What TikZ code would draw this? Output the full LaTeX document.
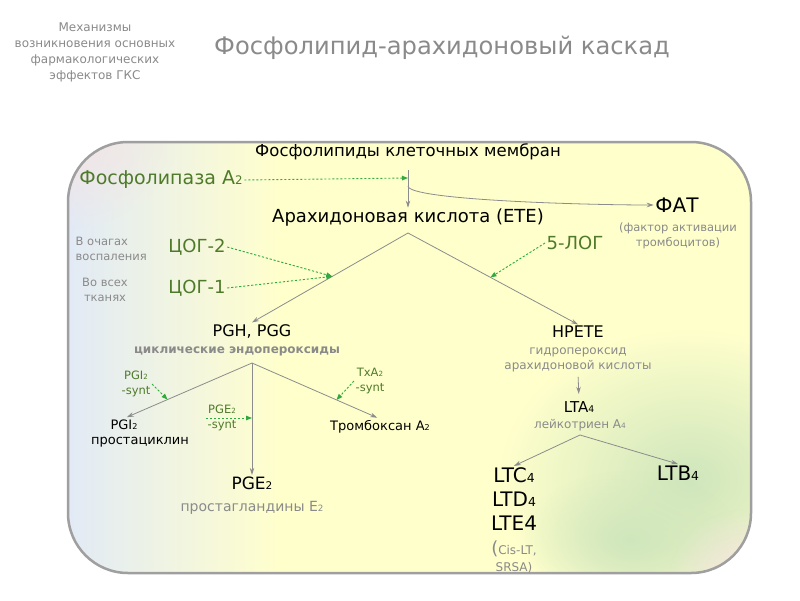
\documentclass[tikz,border=0pt]{standalone}
\usepackage{fontspec}
\setmainfont{DejaVu Sans}
\usepackage{xcolor}
\usetikzlibrary{arrows.meta,fadings}

\definecolor{grtxt}{HTML}{4F7A2A}
\definecolor{grarr}{HTML}{2EAA3E}
\definecolor{gytxt}{HTML}{8A8A8A}
\definecolor{arrgray}{HTML}{8C8C8C}
\definecolor{boxyel}{HTML}{FFFFCC}
\definecolor{boxblue}{HTML}{E2EAF6}
\definecolor{boxgreen}{HTML}{CFE6BC}
\definecolor{boxpink}{HTML}{F5E3E3}
\tikzfading[name=glow,inner color=transparent!0,outer color=transparent!100]
\newcommand{\fsz}[2]{\fontsize{#1}{#2}\selectfont}
\newcommand{\sm}[1]{\scalebox{0.62}{#1}}

\begin{document}
\begin{tikzpicture}[x=1pt,y=-1pt]
  \tikzset{
    txt/.style={inner sep=1.5pt,align=center},
    note/.style={txt,text=gytxt,font=\fsz{11.5}{15}},
    enz/.style={txt,text=grtxt,font=\fsz{18}{20}},
    synt/.style={txt,text=grtxt,font=\fsz{11.5}{15.5}},
    arr/.style={-{Stealth[length=7pt,width=4.5pt]},draw=arrgray,line width=0.8pt},
    zarr/.style={-{Triangle[length=6pt,width=4.5pt]},draw=grarr,line width=0.9pt,
                 dash pattern=on 2.2pt off 1.8pt}
  }
  \useasboundingbox (0,0) rectangle (800,600);
  \fill[white] (0,0) rectangle (800,600);

  % Background box
  \begin{scope}
    \clip[rounded corners=60pt] (68,142) rectangle (751,573);
    \fill[boxyel] (68,142) rectangle (751,573);
    \shade[left color=boxblue,right color=boxyel] (68,142) rectangle (280,573);
    \fill[boxpink,path fading=glow] (60,130) ellipse (120 and 100);
    \fill[boxgreen,path fading=glow] (690,480) ellipse (190 and 150);
    \fill[boxgreen,path fading=glow] (630,540) ellipse (110 and 70);
    \fill[boxpink,path fading=glow] (748,578) ellipse (80 and 70);
  \end{scope}
  \draw[gray!75,line width=2.5pt,rounded corners=60pt] (68,142) rectangle (751,573);

  % Headings
  \node[note,font=\fsz{12}{16}] (mech) at (95,52)
    {Механизмы\\возникновения основных\\фармакологических\\эффектов ГКС};
  \node[txt,text=gytxt,font=\fsz{24.2}{28}] (title) at (442,48)
    {Фосфолипид-арахидоновый каскад};

  % Phospholipids
  \node[txt,font=\fsz{16.5}{19}] (phl) at (408,152) {Фосфолипиды клеточных мембран};
  \node[enz,font=\fsz{19}{21}] (pla) at (161,180) {Фосфолипаза А\sm{2}};
  \node[txt,font=\fsz{18}{20}] (ara) at (408,218) {Арахидоновая кислота (ЕТЕ)};
  \node[txt,font=\fsz{20}{22}] (fat) at (677,205) {ФАТ};
  \node[note] (fatd) at (678,236) {(фактор активации\\тромбоцитов)};
  \coordinate (pj) at (408,178);
  \coordinate (pk) at (408,186);
  \draw[arr,shorten <=8pt] (phl.south) -- (ara.north);
  \draw[zarr] (pla.east) -- (pj);
  \draw[arr] (pk) .. controls +(0,14) and +(-70,0) .. (fat.west);

  % Cyclooxygenase / lipoxygenase
  \node[enz] (cox2) at (197,247) {ЦОГ-2};
  \node[enz] (cox1) at (197,288) {ЦОГ-1};
  \node[note,align=left,anchor=west] (loc2) at (74,249) {В очагах\\воспаления};
  \node[note] (loc1) at (105,290) {Во всех\\тканях};
  \node[enz] (lox) at (575,243) {5-ЛОГ};
  \node[txt,font=\fsz{16}{18}] (pgh) at (252,331) {PGH, PGG};
  \node[note,font=\bfseries\fsz{12}{15}] (pghd) at (237,351) {циклические эндопероксиды};
  \node[txt,font=\fsz{16}{18}] (hp) at (578,332) {HPETE};
  \node[note,font=\fsz{12}{15}] (hpd) at (578,360) {гидропероксид\\арахидоновой кислоты};
  \coordinate (av) at (408,233);
  \draw[arr] (av) -- (pgh.north) coordinate[pos=0.485] (cx);
  \draw[arr] (av) -- (hp.north) coordinate[pos=0.485] (lx);
  \draw[zarr] (cox2.east) -- (cx);
  \draw[zarr] (cox1.east) -- (cx);
  \draw[zarr] (lox.west) -- (lx);

  % Prostanoids
  \node[txt,font=\fsz{13}{17}] (pgi) at (124,425) {PGI\sm{2}};
  \node[txt,font=\fsz{13}{17}] (prc) at (140,442) {простациклин};
  \node[txt,font=\fsz{13}{17}] (txa) at (380,427) {Тромбоксан А\sm{2}};
  \node[txt,font=\fsz{17}{19}] (pge) at (252,483) {PGE\sm{2}};
  \node[note,font=\fsz{14}{16}] (pged) at (252,508) {простагландины Е\sm{2}};
  \node[synt] (pgis) at (136,384) {PGI\sm{2}\\-synt};
  \node[synt] (pges) at (222,418) {PGE\sm{2}\\-synt};
  \node[synt] (txs) at (370,381) {TxA\sm{2}\\-synt};
  \coordinate (pv) at (252,363);
  \draw[arr,shorten >=3pt] (pv) -- (pgi.north) coordinate[pos=0.66] (ps1);
  \draw[arr] (pv) -- (pge.north);
  \draw[arr,shorten >=3pt] (pv) -- (txa.north) coordinate[pos=0.66] (ps3);
  \draw[zarr] (pgis.east) -- (ps1);
  \draw[zarr] (pges.west) -- (pges.west -| pge.north);
  \draw[zarr] (txs.west) -- (ps3);

  % Leukotrienes
  \node[txt,font=\fsz{15}{17}] (lta) at (579,407) {LTA\sm{4}};
  \node[note,font=\fsz{12}{15}] (ltad) at (580,425) {лейкотриен А\sm{4}};
  \node[txt,font=\fsz{20}{24}] (ltc) at (514,499) {LTC\sm{4}\\LTD\sm{4}\\LTE4};
  \node[note,font=\fsz{12}{17}] (cis) at (514,557) {{\fsz{18}{17}(}Cis-LT,\\SRSA)};
  \node[txt,font=\fsz{20}{22}] (ltb) at (678,473) {LTB\sm{4}};
  \coordinate (lv) at (580,435);
  \draw[arr,shorten <=3pt,shorten >=6pt] (hpd.south) -- (lta.north);
  \draw[arr] (lv) -- (ltc.north);
  \draw[arr] (lv) -- (ltb.north);
\end{tikzpicture}
\end{document}
